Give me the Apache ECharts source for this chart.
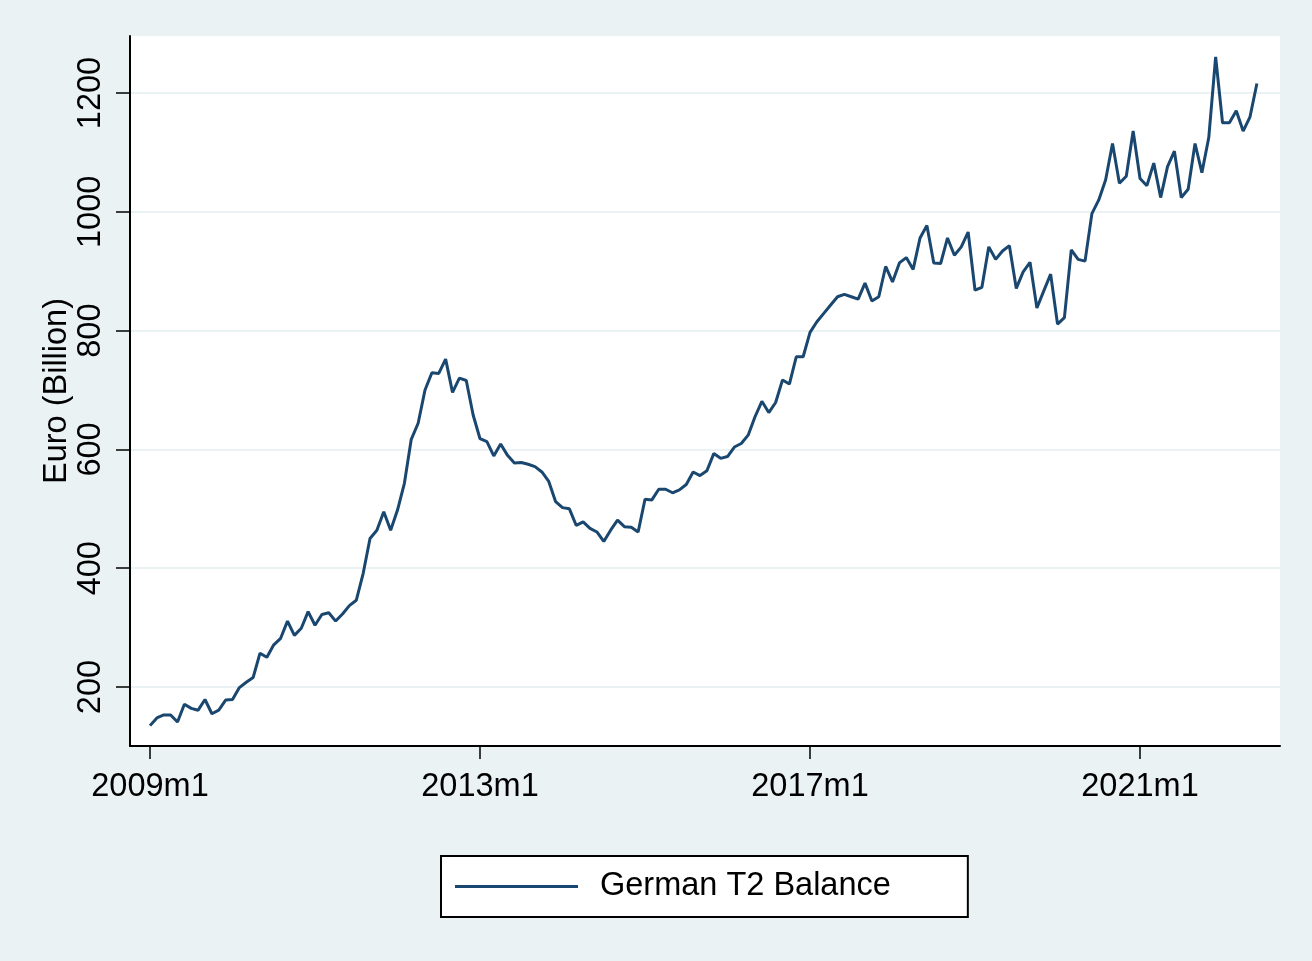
<!DOCTYPE html>
<html><head><meta charset="utf-8">
<script src="https://cdn.jsdelivr.net/npm/echarts@6/dist/echarts.min.js"></script>
<style>html,body{margin:0;padding:0;background:#EAF2F3}#c{width:1312px;height:961px}</style>
</head><body><div id="c"></div>
<script>
// German T2 balance, Euro billion, monthly from 2009m1
const startYear = 2009;
const v2009 = [135,148,153,153,141,171,164,161,179,155,161,178];
const v2010 = [179,199,208,216,257,250,271,282,311,287,299,327];
const v2011 = [304,322,325,311,323,337,346,391,450,464,495,464];
const v2012 = [498,543,617,644,700,729,728,752,696,720,716,658];
const v2013 = [618,613,589,609,590,577,578,575,571,562,546,512];
const v2014 = [502,500,472,478,467,461,445,464,481,470,469,461];
const v2015 = [516,515,533,533,527,532,541,562,556,564,593,585];
const v2016 = [588,604,610,624,655,681,662,679,717,710,756,756];
const v2017 = [797,815,829,843,857,861,857,853,880,850,857,908];
const v2018 = [882,914,923,903,956,977,914,913,956,927,941,966];
const v2019 = [868,873,941,920,934,943,871,899,915,838,867,895];
const v2020 = [811,822,936,920,917,997,1020,1054,1115,1048,1060,1136];
const v2021 = [1056,1044,1082,1024,1076,1102,1024,1038,1115,1066,1125,1261];
const v2022 = [1150,1150,1170,1136,1160,1216];

const xTickMonths = [0, 48, 96, 144];
const xTickLabels = ['2009m1', '2013m1', '2017m1', '2021m1'];
const yTicks = [200, 400, 600, 800, 1000, 1200];
const seriesName = 'German T2 Balance';
const yTitle = 'Euro (Billion)';

const values = [].concat(v2009, v2010, v2011, v2012, v2013, v2014, v2015, v2016,
  v2017, v2018, v2019, v2020, v2021, v2022);
const data = values.map((v, i) => [i, v]);

const FONT = '"Liberation Sans", Arial, sans-serif';
const FS = 32.5;
const chart = echarts.init(document.getElementById('c'), null, {renderer: 'canvas'});
chart.setOption({
  animation: false,
  backgroundColor: '#EAF2F3',
  grid: {left: 130, right: 32, top: 36, bottom: 215, show: true, backgroundColor: '#ffffff', borderWidth: 0},
  xAxis: {
    type: 'value', min: -2.91, max: 164.36,
    axisLine: {show: true, onZero: false, lineStyle: {color: '#000', width: 2}},
    axisTick: {show: true, length: 13, customValues: xTickMonths, lineStyle: {color: '#000', width: 1.5}},
    axisLabel: {show: true, customValues: xTickMonths, margin: 25, fontSize: FS, color: '#000', fontFamily: FONT,
      formatter: function (v) { const k = xTickMonths.indexOf(Math.round(v)); return k >= 0 ? xTickLabels[k] : ''; }},
    splitLine: {show: false}
  },
  yAxis: {
    type: 'value', min: 100.7, max: 1296,
    name: yTitle, nameLocation: 'middle', nameRotate: 90, nameGap: 56, nameMoveOverlap: false,
    nameTextStyle: {fontSize: FS, color: '#000', fontFamily: FONT},
    axisLine: {show: true, onZero: false, lineStyle: {color: '#000', width: 2}},
    axisTick: {show: true, length: 14, customValues: yTicks, lineStyle: {color: '#000', width: 1.5}},
    axisLabel: {show: true, customValues: yTicks, rotate: 90, margin: 22, fontSize: FS, color: '#000', fontFamily: FONT,
      formatter: function (v) { return String(Math.round(v)); }},
    splitLine: {show: true, lineStyle: {color: '#EAF2F3', width: 2}}
  },
  legend: {
    show: true, left: 441, top: 856, orient: 'horizontal', icon: 'rect',
    backgroundColor: '#ffffff', borderColor: '#000', borderWidth: 2,
    padding: [14, 77, 14, 14], itemWidth: 123, itemHeight: 3,
    textStyle: {fontSize: FS, lineHeight: 32, color: '#000', fontFamily: FONT, padding: [0, 0, 0, 17]},
    data: [seriesName]
  },
  series: [{
    name: seriesName, type: 'line', data: data, symbol: 'none', showSymbol: false,
    lineStyle: {color: '#1A476F', width: 3}, itemStyle: {color: '#1A476F'}
  }]
});
</script></body></html>
